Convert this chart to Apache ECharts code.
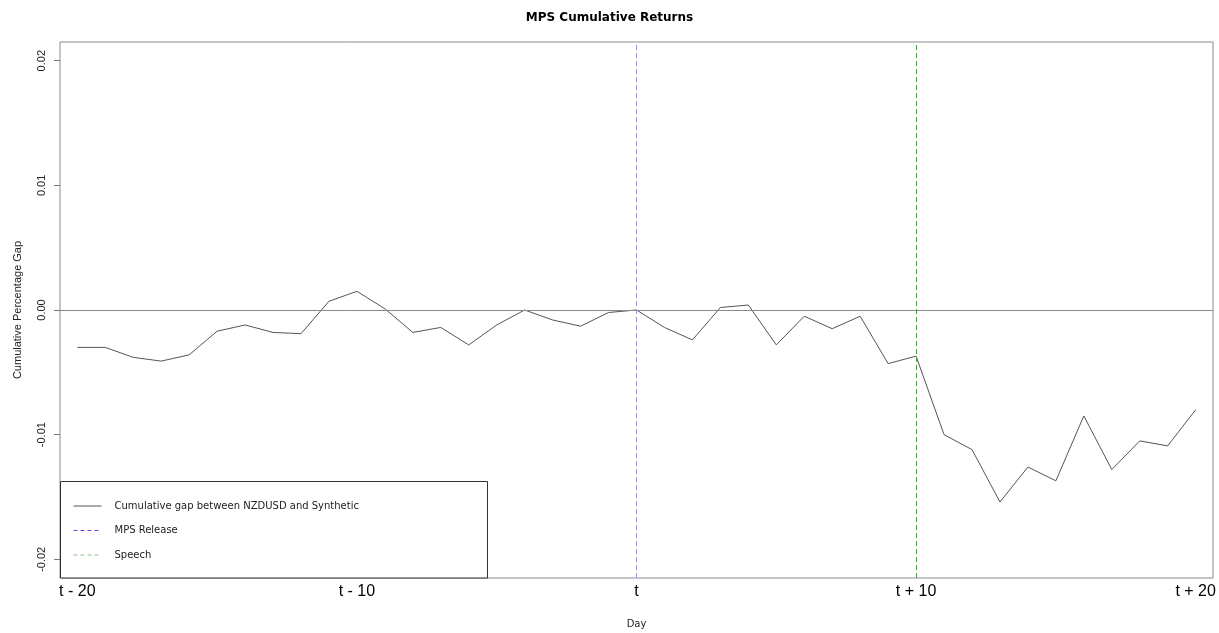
<!DOCTYPE html>
<html>
<head>
<meta charset="utf-8">
<title>MPS Cumulative Returns</title>
<script src="https://cdn.jsdelivr.net/npm/echarts@6/dist/echarts.min.js"></script>
<style>
  html, body { margin: 0; padding: 0; background: #ffffff; }
  #chart { width: 1219px; height: 633px; }
</style>
</head>
<body>
<div id="chart"></div>
<script>
// Event window: trading days relative to the MPS release day t
const days = [-20, -19, -18, -17, -16, -15, -14, -13, -12, -11, -10, -9, -8, -7, -6, -5, -4, -3, -2, -1,
              0, 1, 2, 3, 4, 5, 6, 7, 8, 9, 10, 11, 12, 13, 14, 15, 16, 17, 18, 19, 20];

// Cumulative percentage gap between NZDUSD and the synthetic series
const cumulativeGap = [-0.0030, -0.0030, -0.0038, -0.0041, -0.0036, -0.0017, -0.0012, -0.0018, -0.0019, 0.0007,
                       0.0015, 0.0001, -0.0018, -0.0014, -0.0028, -0.0012, 0.0000, -0.0008, -0.0013, -0.0002,
                       0.0000, -0.0014, -0.0024, 0.0002, 0.0004, -0.0028, -0.0005, -0.0015, -0.0005, -0.0043,
                       -0.0037, -0.0100, -0.0112, -0.0154, -0.0126, -0.0137, -0.0085, -0.0128, -0.0105, -0.0109,
                       -0.0080];

// Event markers
const mpsReleaseDay = 0;
const speechDay = 10;

// Axis ticks
const xTickValues = [-20, -10, 0, 10, 20];
const xTickLabels = ['t - 20', 't - 10', 't', 't + 10', 't + 20'];
const yTickValues = [-0.02, -0.01, 0, 0.01, 0.02];

const seriesNames = ['Cumulative gap between NZDUSD and Synthetic', 'MPS Release', 'Speech'];
const seriesColors = ['#555555', '#7a3fe0', '#86c486'];

const lineData = days.map((d, i) => [d, cumulativeGap[i]]);

const chart = echarts.init(document.getElementById('chart'), null, { renderer: 'canvas' });

chart.setOption({
  backgroundColor: '#ffffff',
  animation: false,
  title: {
    text: 'MPS Cumulative Returns',
    left: 'center',
    top: 7,
    textStyle: { fontFamily: 'DejaVu Sans', fontSize: 12, fontWeight: 'bold', color: '#000000' }
  },
  grid: {
    left: 60, top: 42, right: 6, bottom: 55,
    outerBoundsMode: 'none',
    containLabel: false,
    show: true, borderColor: '#8a8a8a', borderWidth: 1, backgroundColor: 'transparent'
  },
  xAxis: {
    type: 'value',
    min: -20.62, max: 20.62,
    name: 'Day',
    nameLocation: 'middle',
    nameGap: 41,
    nameTextStyle: { fontFamily: 'DejaVu Sans', fontSize: 10, color: '#222222' },
    axisLine: { show: false, onZero: false },
    axisTick: { show: false },
    splitLine: { show: false },
    axisLabel: {
      customValues: xTickValues,
      margin: 6,
      fontFamily: 'Liberation Sans',
      fontSize: 16,
      color: '#000000',
      formatter: v => xTickLabels[xTickValues.indexOf(Math.round(v))]
    }
  },
  yAxis: {
    type: 'value',
    min: -0.0215, max: 0.0215,
    name: 'Cumulative Percentage Gap',
    nameLocation: 'middle',
    nameRotate: 90,
    nameGap: 37,
    nameTextStyle: { fontFamily: 'Liberation Sans', fontSize: 11, color: '#222222' },
    axisLine: { show: false, onZero: false },
    axisTick: { show: true, customValues: yTickValues, length: 6, lineStyle: { color: '#777777' } },
    splitLine: { show: false },
    axisLabel: {
      customValues: yTickValues,
      rotate: 90,
      margin: 13,
      fontFamily: 'Liberation Sans',
      fontSize: 11,
      color: '#222222',
      formatter: v => v.toFixed(2)
    }
  },
  legend: {
    orient: 'vertical',
    left: 73,
    top: 501,
    padding: 0,
    itemWidth: 28,
    itemHeight: 12,
    itemGap: 14.5,
    data: [
      { name: seriesNames[0], lineStyle: { color: seriesColors[0], width: 1, type: 'solid' } },
      { name: seriesNames[1], lineStyle: { color: seriesColors[1], width: 1, type: [4, 3] } },
      { name: seriesNames[2], lineStyle: { color: seriesColors[2], width: 1, type: [4, 3] } }
    ],
    itemStyle: { opacity: 0 },
    textStyle: { fontFamily: 'DejaVu Sans', fontSize: 10, color: '#222222', padding: [0, 0, 0, 8] }
  },
  graphic: [{
    type: 'rect',
    z: 0,
    shape: { x: 60.5, y: 481.5, width: 427, height: 96.5 },
    style: { fill: '#ffffff', stroke: '#333333', lineWidth: 1 }
  }],
  series: [
    {
      name: seriesNames[0],
      type: 'line',
      data: lineData,
      symbol: 'none',
      lineStyle: { color: seriesColors[0], width: 1 },
      itemStyle: { color: seriesColors[0] },
      z: 3,
      markLine: {
        silent: true,
        symbol: 'none',
        label: { show: false },
        lineStyle: { color: '#8a8a8a', type: 'solid', width: 1 },
        data: [{ yAxis: 0 }]
      }
    },
    {
      name: seriesNames[1],
      type: 'line',
      data: [],
      symbol: 'none',
      lineStyle: { color: seriesColors[1], width: 1, type: [5, 3] },
      itemStyle: { color: seriesColors[1] },
      markLine: {
        silent: true,
        symbol: 'none',
        label: { show: false },
        lineStyle: { color: '#a68bd9', type: [5, 3], width: 1 },
        data: [{ xAxis: mpsReleaseDay }]
      }
    },
    {
      name: seriesNames[2],
      type: 'line',
      data: [],
      symbol: 'none',
      lineStyle: { color: seriesColors[2], width: 1, type: [5, 3] },
      itemStyle: { color: seriesColors[2] },
      markLine: {
        silent: true,
        symbol: 'none',
        label: { show: false },
        lineStyle: { color: '#4f9a4f', type: [5, 3], width: 1 },
        data: [{ xAxis: speechDay }]
      }
    }
  ]
});
</script>
</body>
</html>
